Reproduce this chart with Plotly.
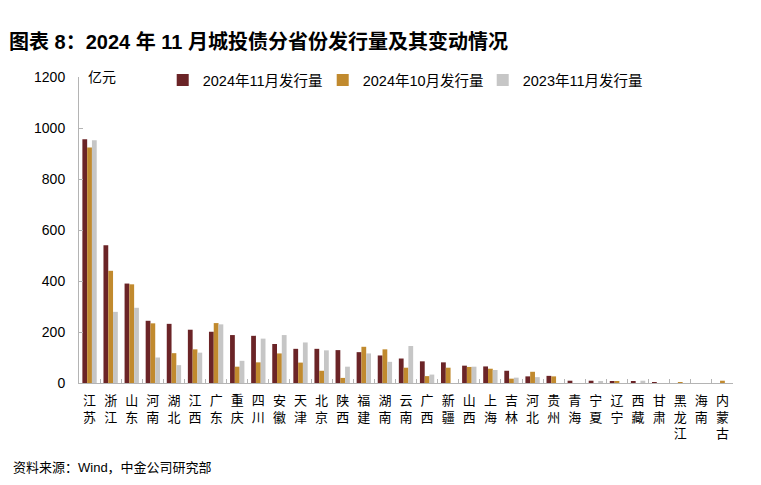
import plotly.graph_objects as go

# 省份（按 2024年11月发行量排序）
provinces = ["江苏", "浙江", "山东", "河南", "湖北", "江西", "广东", "重庆", "四川", "安徽",
             "天津", "北京", "陕西", "福建", "湖南", "云南", "广西", "新疆", "山西", "上海",
             "吉林", "河北", "贵州", "青海", "宁夏", "辽宁", "西藏", "甘肃", "黑龙江", "海南",
             "内蒙古"]

# 单位：亿元，读自原图
nov_2024 = [956, 540, 390, 244, 232, 209, 201, 188, 185, 153,
            134, 134, 129, 121, 108, 96, 85, 81, 68, 65,
            48, 26, 28, 9, 9, 5, 5, 3, 0, 0,
            0]
oct_2024 = [924, 440, 387, 234, 117, 132, 235, 64, 81, 116,
            80, 48, 20, 142, 132, 60, 27, 60, 63, 56,
            17, 44, 26, 0, 0, 5, 0, 0, 2, 0,
            9]
nov_2023 = [952, 279, 295, 100, 70, 119, 230, 87, 174, 188,
            159, 128, 64, 116, 83, 145, 33, 0, 64, 51,
            21, 23, 0, 0, 4, 0, 9, 0, 0, 0,
            0]

series_names = ["2024年11月发行量", "2024年10月发行量", "2023年11月发行量"]
colors = ["#6B2427", "#C18A2E", "#C6C6C6"]

# 竖排标签
tick_text = ["<br>".join(list(p)) for p in provinces]

font_family = "Liberation Sans, Arial, Noto Sans CJK SC, sans-serif"
axis_gray = "#B4B4B4"

fig = go.Figure()
for name, vals, col in zip(series_names, [nov_2024, oct_2024, nov_2023], colors):
    fig.add_trace(go.Bar(
        x=provinces,
        y=vals,
        name=name,
        marker=dict(color=col, line=dict(width=0)),
    ))

# page has an 8px body margin, so the figure is sized/offset for that
fig.update_layout(
    width=753,
    height=477,
    margin=dict(l=71, r=28, t=69, b=102, autoexpand=False),
    paper_bgcolor="white",
    plot_bgcolor="white",
    barmode="group",
    bargap=0.32,
    bargroupgap=0,
    font=dict(family=font_family, size=13, color="#000000"),
    showlegend=True,
    legend=dict(
        orientation="h",
        x=0.128, y=0.99,
        xanchor="left", yanchor="middle",
        font=dict(size=14.5),
        bgcolor="rgba(0,0,0,0)",
        itemwidth=30,
        entrywidth=115,
        traceorder="normal",
    ),
    xaxis=dict(
        type="category",
        tickmode="array",
        tickvals=provinces,
        ticktext=tick_text,
        tickson="boundaries",
        ticks="inside",
        ticklen=4,
        tickcolor=axis_gray,
        showline=True,
        linecolor=axis_gray,
        linewidth=1,
        showgrid=False,
        tickangle=0,
        ticklabelstandoff=5,
        tickfont=dict(size=13),
    ),
    yaxis=dict(
        range=[0, 1200],
        tickmode="array",
        tickvals=[0, 200, 400, 600, 800, 1000, 1200],
        ticks="inside",
        ticklen=4,
        tickcolor=axis_gray,
        showline=True,
        linecolor=axis_gray,
        linewidth=1,
        showgrid=False,
        zeroline=False,
        ticklabelstandoff=10,
        tickfont=dict(size=14),
    ),
)

fig.add_annotation(
    text="<b>图表 8：2024 年 11 月城投债分省份发行量及其变动情况</b>",
    xref="paper", yref="paper", x=-72 / 654, y=1 + 35 / 306,
    xanchor="left", yanchor="middle", showarrow=False,
    font=dict(size=20, family=font_family, color="#000000"),
)
fig.add_annotation(
    text="亿元",
    xref="paper", yref="paper", x=0.01, y=1.0,
    xanchor="left", yanchor="middle", showarrow=False,
    font=dict(size=14),
)
fig.add_annotation(
    text="资料来源：Wind，中金公司研究部",
    xref="paper", yref="paper", x=-68 / 654, y=-85 / 306,
    xanchor="left", yanchor="middle", showarrow=False,
    font=dict(size=13),
)

fig.write_html("out.html")
